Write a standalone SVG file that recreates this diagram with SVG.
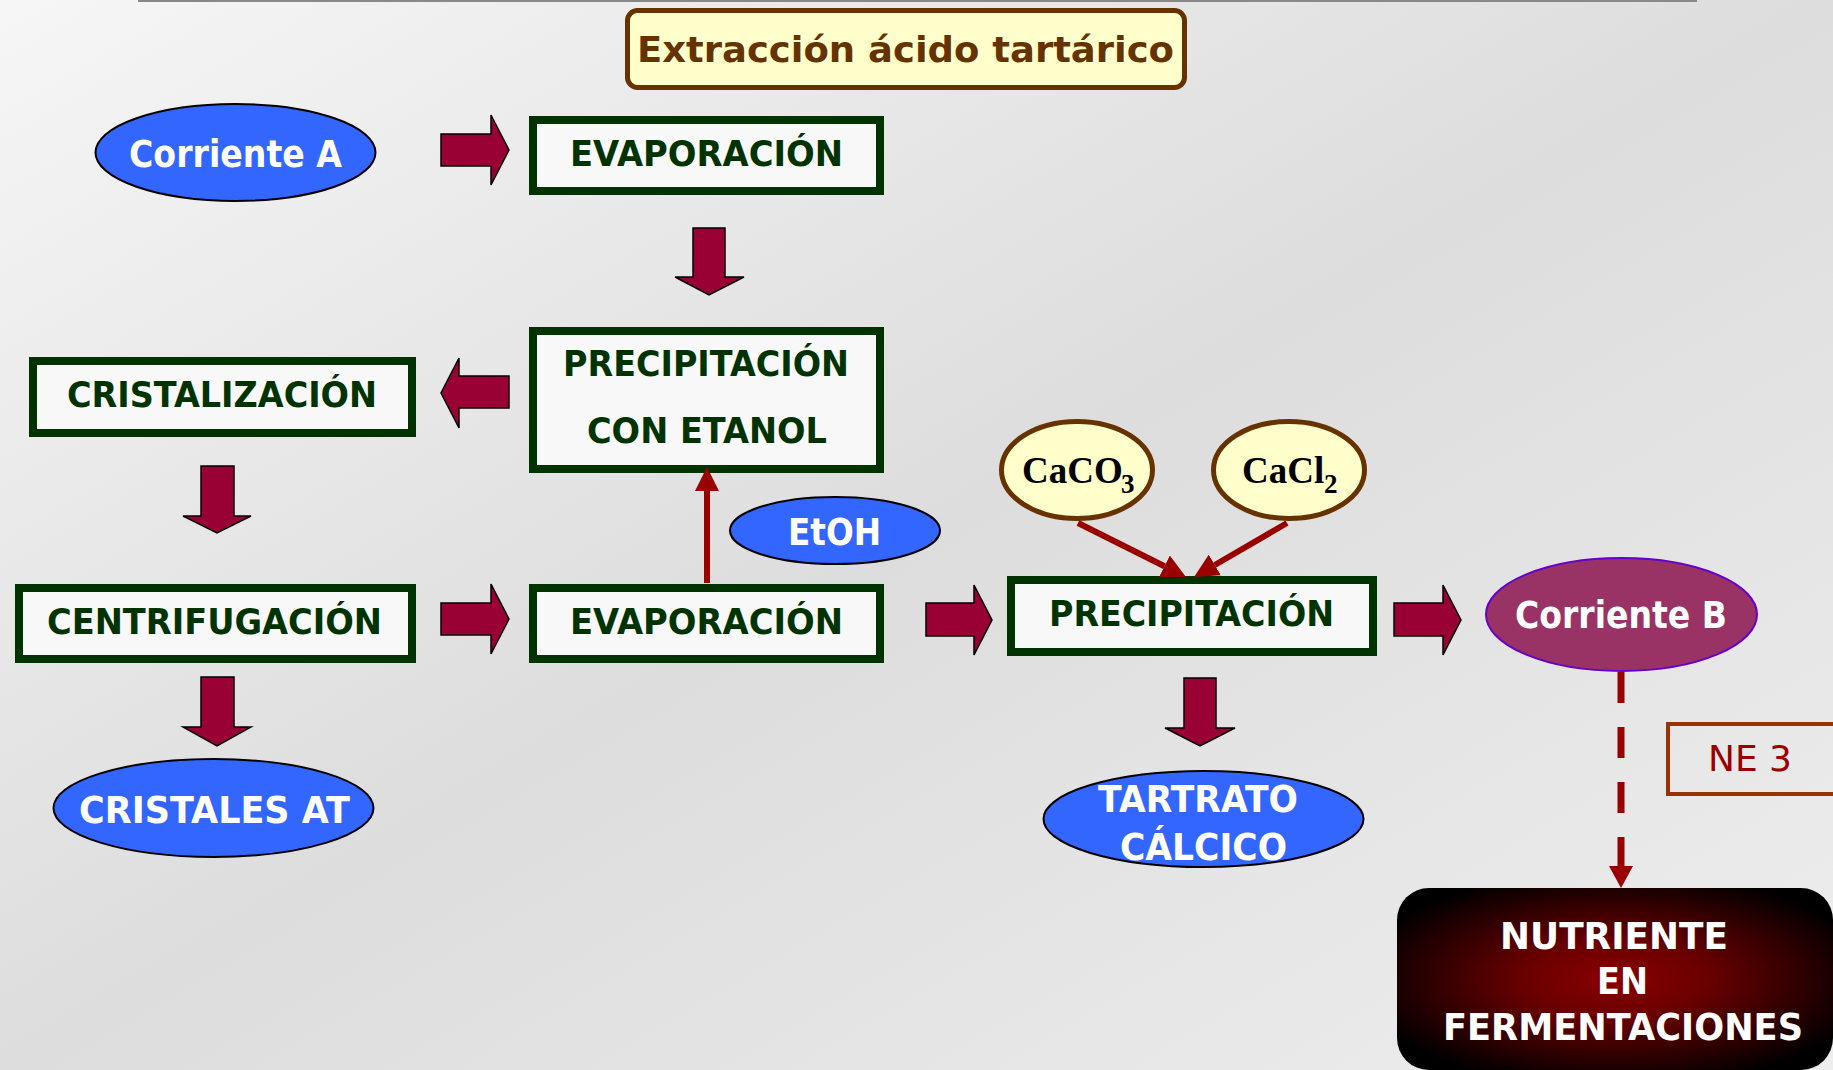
<svg xmlns="http://www.w3.org/2000/svg" width="1833" height="1070" viewBox="0 0 1833 1070">
<defs>
<linearGradient id="bg" x1="0" y1="0" x2="1" y2="1">
<stop offset="0" stop-color="#F6F6F6"/>
<stop offset="0.5" stop-color="#DDDDDD"/>
<stop offset="1" stop-color="#EEEEEE"/>
</linearGradient>
<radialGradient id="nut" cx="0.5" cy="0.5" r="0.6">
<stop offset="0" stop-color="#8A0000"/>
<stop offset="0.35" stop-color="#6A0000"/>
<stop offset="1" stop-color="#000000"/>
</radialGradient>
<marker id="ah" viewBox="0 0 10 10" refX="0" refY="5" markerUnits="userSpaceOnUse" markerWidth="24" markerHeight="24" orient="auto">
<path d="M0,0 L10,5 L0,10 Z" fill="#990000"/>
</marker>
</defs>
<style>
.box{fill:#F8F8F8;stroke:#003300;stroke-width:8}
.bt{font-family:"DejaVu Sans",sans-serif;font-weight:bold;font-size:36px;fill:#003300}
.ell{fill:#3366FF;stroke:#000;stroke-width:2}
.wt{font-family:"DejaVu Sans",sans-serif;font-weight:bold;font-size:37px;fill:#FFFFFF}
.ba{fill:#990033;stroke:#000;stroke-width:1.5}
.rl{stroke:#990000;stroke-width:6;fill:none}
.circ{fill:#FFFFCC;stroke:#663300;stroke-width:5}
.ct{font-family:"Liberation Serif",serif;font-weight:bold;font-size:37px;fill:#000}
</style>
<rect x="0" y="0" width="1833" height="1070" fill="url(#bg)"/>
<line x1="138" y1="1" x2="1697" y2="1" stroke="#888888" stroke-width="2"/>

<g id="title">
<rect x="627.5" y="10.5" width="557" height="77" rx="10" fill="#FFFFCC" stroke="#663300" stroke-width="5"/>
<text x="637" y="62" font-family="DejaVu Sans, sans-serif" font-weight="bold" font-size="35" fill="#663300" textLength="537" lengthAdjust="spacingAndGlyphs">Extracción ácido tartárico</text>
</g>

<g id="corrienteA">
<ellipse class="ell" cx="235.5" cy="152.5" rx="140" ry="48.5"/>
<text class="wt" x="129" y="167" textLength="213" lengthAdjust="spacingAndGlyphs">Corriente A</text>
</g>

<g id="evap1">
<rect class="box" x="533" y="120" width="347" height="71"/>
<text class="bt" x="570" y="166" textLength="273" lengthAdjust="spacingAndGlyphs">EVAPORACIÓN</text>
</g>

<g id="precEtanol">
<rect class="box" x="533" y="331" width="347" height="138"/>
<text class="bt" x="563" y="376" textLength="286" lengthAdjust="spacingAndGlyphs">PRECIPITACIÓN</text>
<text class="bt" x="587" y="443" textLength="240" lengthAdjust="spacingAndGlyphs">CON ETANOL</text>
</g>

<g id="cristalizacion">
<rect class="box" x="33" y="361" width="379" height="72"/>
<text class="bt" x="67" y="407" textLength="310" lengthAdjust="spacingAndGlyphs">CRISTALIZACIÓN</text>
</g>

<g id="etoh">
<ellipse class="ell" cx="835" cy="530.5" rx="105" ry="33.5"/>
<text class="wt" x="788" y="545" textLength="93" lengthAdjust="spacingAndGlyphs">EtOH</text>
</g>

<g id="centrifugacion">
<rect class="box" x="19" y="588" width="393" height="71"/>
<text class="bt" x="47" y="634" textLength="335" lengthAdjust="spacingAndGlyphs">CENTRIFUGACIÓN</text>
</g>

<g id="evap2">
<rect class="box" x="533" y="588" width="347" height="71"/>
<text class="bt" x="570" y="634" textLength="273" lengthAdjust="spacingAndGlyphs">EVAPORACIÓN</text>
</g>

<g id="cristalesAT">
<ellipse class="ell" cx="213.5" cy="808" rx="160" ry="49"/>
<text class="wt" x="79" y="823" textLength="271" lengthAdjust="spacingAndGlyphs">CRISTALES AT</text>
</g>

<g id="caco3">
<ellipse class="circ" cx="1077" cy="470" rx="75.5" ry="48.5"/>
<text class="ct" x="1022" y="483">CaCO<tspan x="1121" y="493" font-size="27">3</tspan></text>
</g>

<g id="cacl2">
<ellipse class="circ" cx="1289" cy="470" rx="75.5" ry="48.5"/>
<text class="ct" x="1242" y="483">CaCl<tspan x="1324" y="493" font-size="27">2</tspan></text>
</g>

<g id="precipitacion">
<rect class="box" x="1011" y="580" width="362" height="72"/>
<text class="bt" x="1049" y="626" textLength="285" lengthAdjust="spacingAndGlyphs">PRECIPITACIÓN</text>
</g>

<g id="corrienteB">
<ellipse cx="1621.5" cy="614.5" rx="135.5" ry="56.5" fill="#993366" stroke="#6600CC" stroke-width="2"/>
<text class="wt" x="1515" y="628" textLength="212" lengthAdjust="spacingAndGlyphs">Corriente B</text>
</g>

<g id="tartrato">
<ellipse class="ell" cx="1203.5" cy="819" rx="160" ry="48"/>
<text class="wt" x="1098" y="812" textLength="200" lengthAdjust="spacingAndGlyphs">TARTRATO</text>
<text class="wt" x="1120" y="860" textLength="167" lengthAdjust="spacingAndGlyphs">CÁLCICO</text>
</g>

<g id="ne3">
<rect x="1668" y="724" width="200" height="70" fill="none" stroke="#993300" stroke-width="4"/>
<text x="1708" y="771" font-family="DejaVu Sans, sans-serif" font-size="36" fill="#990000" textLength="84" lengthAdjust="spacingAndGlyphs">NE 3</text>
</g>

<g id="nutriente">
<rect x="1397" y="888" width="436" height="182" rx="32" fill="url(#nut)"/>
<text x="1500" y="949" font-family="DejaVu Sans, sans-serif" font-weight="bold" font-size="37" fill="#FFFFFF" textLength="228" lengthAdjust="spacingAndGlyphs">NUTRIENTE</text>
<text x="1597" y="994" font-family="DejaVu Sans, sans-serif" font-weight="bold" font-size="37" fill="#FFFFFF" textLength="51" lengthAdjust="spacingAndGlyphs">EN</text>
<text x="1443" y="1040" font-family="DejaVu Sans, sans-serif" font-weight="bold" font-size="37" fill="#FFFFFF" textLength="360" lengthAdjust="spacingAndGlyphs">FERMENTACIONES</text>
</g>

<g id="connectors">
<path class="ba" d="M441,134 H491 V115 L509,150 L491,185 V166 H441 Z"/>
<path class="ba" d="M693,228 H725 V277 H744 L709,295 L675,277 H693 Z"/>
<path class="ba" d="M509,376 H459 V358 L441,393 L459,428 V408 H509 Z"/>
<path class="ba" d="M201,466 H234 V516 H251 L217,533 L183,516 H201 Z"/>
<path class="ba" d="M441,603 H491 V584 L509,619 L491,654 V635 H441 Z"/>
<path class="ba" d="M201,677 H234 V727 H251 L217,746 L183,727 H201 Z"/>
<path class="ba" d="M926,603 H974 V585 L992,620 L974,655 V636 H926 Z"/>
<path class="ba" d="M1394,603 H1443 V585 L1461,620 L1443,655 V636 H1394 Z"/>
<path class="ba" d="M1184,678 H1216 V728 H1235 L1200,746 L1165,728 H1184 Z"/>
<line class="rl" x1="707" y1="583" x2="707" y2="491" marker-end="url(#ah)"/>
<line class="rl" x1="1078" y1="523" x2="1164.5" y2="566.3" marker-end="url(#ah)"/>
<line class="rl" x1="1287" y1="523" x2="1214.8" y2="565" marker-end="url(#ah)"/>
<line x1="1621" y1="672" x2="1621" y2="866" stroke="#990000" stroke-width="7" stroke-dasharray="31 24"/>
<path d="M1609,866 L1633,866 L1621,888 Z" fill="#990000"/>
</g>
</svg>
